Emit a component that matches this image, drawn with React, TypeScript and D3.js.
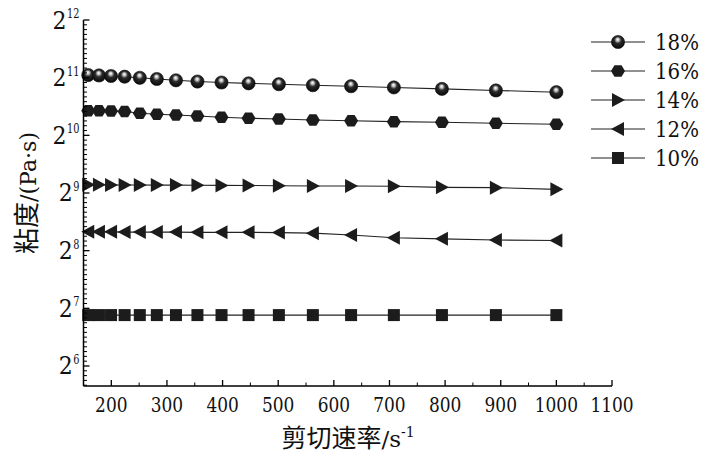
import React from "react";
import * as d3 from "d3";

const shearRates = [158.5, 177.8, 199.5, 223.9, 251.2, 281.8, 316.2, 354.8, 398.1, 446.7, 501.2, 562.3, 631.0, 707.9, 794.3, 891.3, 1000];
const v18 = [2114, 2103, 2090, 2072, 2045, 2016, 1984, 1955, 1932, 1913, 1893, 1870, 1848, 1821, 1789, 1756, 1720];
const v16 = [1377, 1375, 1372, 1364, 1335, 1319, 1308, 1292, 1272, 1257, 1246, 1231, 1221, 1207, 1198, 1184, 1170];
const v14 = [565, 565, 564, 564, 564, 563, 563, 562, 561, 560, 559, 557, 557, 555, 548, 546, 535];
const v12 = [321, 321, 321, 320, 320, 320, 320, 319, 319, 319, 318, 316, 309, 299, 295, 291, 289];
const v10 = [118, 118, 118, 118, 118, 118, 118, 118, 118, 118, 118, 118, 118, 118, 118, 118, 118];

const seriesNames = ["18%", "16%", "14%", "12%", "10%"];
const seriesValues = [v18, v16, v14, v12, v10];
const seriesMarkers = ["sphere", "hexagon", "triRight", "triLeft", "square"];

const xTickValues = [200, 300, 400, 500, 600, 700, 800, 900, 1000, 1100];
const xMinorValues = [250, 350, 450, 550, 650, 750, 850, 950, 1050];
const yExponents = [6, 7, 8, 9, 10, 11, 12];

const serif = '"DejaVu Serif", serif';
const cjk = '"Noto Sans CJK SC", sans-serif';

function Marker({ type, x, y }: { type: string; x: number; y: number }) {
  const fill = "#1c1c1c";
  if (type === "sphere") {
    return <circle cx={x} cy={y} r={6.6} fill="url(#sphereGrad)" stroke="#111" strokeWidth={0.6} />;
  }
  if (type === "hexagon") {
    const r = 7;
    const pts = d3.range(6).map((i) => {
      const a = (Math.PI / 3) * i;
      return [x + r * Math.cos(a), y + r * 0.95 * Math.sin(a)].join(",");
    });
    return <polygon points={pts.join(" ")} fill={fill} />;
  }
  if (type === "triRight") {
    return <polygon points={`${x - 6},${y - 7} ${x + 7},${y} ${x - 6},${y + 7}`} fill={fill} />;
  }
  if (type === "triLeft") {
    return <polygon points={`${x + 6},${y - 7} ${x - 7},${y} ${x + 6},${y + 7}`} fill={fill} />;
  }
  return <rect x={x - 6} y={y - 6} width={12} height={12} fill={fill} />;
}

export default function App() {
  const width = 708;
  const height = 453;
  const x0 = 83.5;
  const x1 = 612;
  const yTop = 20;
  const yBot = 386;
  const lowExp = 5.653;

  const x = d3.scaleLinear().domain([150, 1100]).range([x0, x1]);
  const y = d3.scaleLog().base(2).domain([Math.pow(2, lowExp), 4096]).range([yBot, yTop]);

  const yMinor: number[] = [];
  for (let n = 5; n < 12; n++) {
    for (let k = 1; k < 12; k++) {
      const e = n + k / 12;
      if (e >= lowExp && e < 12) yMinor.push(Math.pow(2, e));
    }
  }

  const line = d3
    .line<number>()
    .x((_, i) => x(shearRates[i]))
    .y((d) => y(d));

  const legendY = [42, 71, 100, 129, 158];
  const serifStyle = { fontFamily: serif };
  const cjkStyle = { fontFamily: cjk };

  return (
    <svg width={width} height={height} style={{ display: "block", position: "absolute", left: 0, top: 0, fontFamily: serif }}>
      <defs>
        <radialGradient id="sphereGrad" cx="0.5" cy="0.42" r="0.58" fx="0.47" fy="0.3">
          <stop offset="0%" stopColor="#ffffff" />
          <stop offset="18%" stopColor="#c8c8c8" />
          <stop offset="45%" stopColor="#2a2a2a" />
          <stop offset="100%" stopColor="#080808" />
        </radialGradient>
      </defs>
      <rect width={width} height={height} fill="#fff" />

      {seriesValues.map((vals, si) => (
        <path key={"l" + si} d={line(vals) || ""} fill="none" stroke="#222" strokeWidth={1.1} />
      ))}
      {seriesValues.map((vals, si) =>
        vals.map((v, i) => <Marker key={si + "-" + i} type={seriesMarkers[si]} x={x(shearRates[i])} y={y(v)} />)
      )}

      <line x1={x0} x2={x0} y1={yTop} y2={yBot} stroke="#000" strokeWidth={1.5} />
      <line x1={x0} x2={x1} y1={yBot} y2={yBot} stroke="#000" strokeWidth={1.5} />
      {yExponents.map((e) => (
        <line key={"ym" + e} x1={x0} x2={x0 + 6} y1={y(Math.pow(2, e))} y2={y(Math.pow(2, e))} stroke="#000" strokeWidth={1.3} />
      ))}
      {yMinor.map((v, i) => (
        <line key={"yn" + i} x1={x0} x2={x0 + 3.5} y1={y(v)} y2={y(v)} stroke="#000" strokeWidth={1} />
      ))}
      {xTickValues.map((v) => (
        <line key={"xm" + v} x1={x(v)} x2={x(v)} y1={yBot} y2={yBot - 6} stroke="#000" strokeWidth={1.3} />
      ))}
      {xMinorValues.map((v) => (
        <line key={"xn" + v} x1={x(v)} x2={x(v)} y1={yBot} y2={yBot - 3.5} stroke="#000" strokeWidth={1} />
      ))}

      {xTickValues.map((v) => (
        <text
          key={"xl" + v}
          x={x(v)}
          y={412}
          textAnchor="middle"
          style={serifStyle}
          fontSize={21}
          fill="#111"
          textLength={String(v).length * 10.8}
          lengthAdjust="spacingAndGlyphs"
        >
          {v}
        </text>
      ))}
      {yExponents.map((e) => {
        const ty = y(Math.pow(2, e));
        const sup = String(e);
        const supW = sup.length * 6.2;
        return (
          <g key={"yl" + e}>
            <text
              x={79 - supW}
              y={ty + 8.5}
              textAnchor="end"
              style={serifStyle}
              fontSize={25}
              fill="#111"
              textLength={14}
              lengthAdjust="spacingAndGlyphs"
            >
              2
            </text>
            <text
              x={79 - supW + 0.5}
              y={ty - 2}
              style={serifStyle}
              fontSize={13}
              fill="#111"
              textLength={supW}
              lengthAdjust="spacingAndGlyphs"
            >
              {sup}
            </text>
          </g>
        );
      })}

      <text x={348} y={447} textAnchor="middle" fontSize={25} fill="#111">
        <tspan style={cjkStyle}>剪切速率</tspan>
        <tspan style={serifStyle} fontSize={23}>/s</tspan>
        <tspan style={serifStyle} fontSize={14} dy={-10}>
          -1
        </tspan>
      </text>
      <text transform="translate(36,193) rotate(-90)" textAnchor="middle" fontSize={26} fill="#111">
        <tspan style={cjkStyle}>粘度</tspan>
        <tspan style={serifStyle} fontSize={23} textLength={70} lengthAdjust="spacingAndGlyphs">
          /(Pa·s)
        </tspan>
      </text>

      {seriesNames.map((name, i) => (
        <g key={"lg" + i}>
          <line x1={591} x2={645} y1={legendY[i]} y2={legendY[i]} stroke="#222" strokeWidth={1.1} />
          <Marker type={seriesMarkers[i]} x={618} y={legendY[i]} />
          <text
            x={655}
            y={legendY[i] + 8}
            style={serifStyle}
            fontSize={23}
            fill="#111"
            textLength={44}
            lengthAdjust="spacingAndGlyphs"
          >
            {name}
          </text>
        </g>
      ))}
    </svg>
  );
}
